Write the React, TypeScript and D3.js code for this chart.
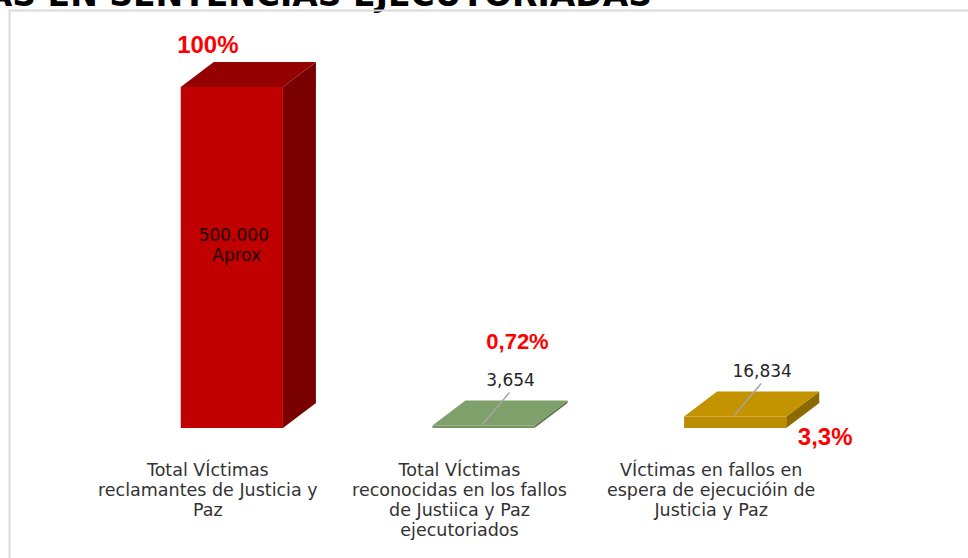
import React from "react";
import * as d3 from "d3";

const title = "VÍCTIMAS EN SENTENCIAS EJECUTORIADAS";
const categories = [
  "Total VÍctimas\nreclamantes de Justicia y\nPaz",
  "Total VÍctimas\nreconocidas en los fallos\nde Justiica y Paz\nejecutoriados",
  "VÍctimas en fallos en\nespera de ejecucióin de\nJusticia y Paz",
];
const values = [500000, 3654, 16834];
const valueLabels = ["500.000\nAprox", "3,654", "16,834"];
const percentLabels = ["100%", "0,72%", "3,3%"];

// face colours: front, top, side
const colors = [
  ["#C00000", "#940000", "#7A0000"],
  ["#76955F", "#7FA06B", "#5E7A4B"],
  ["#BB8C00", "#C39300", "#8C6A00"],
];
// where each red percentage note sits, relative to bar centre / bar top
const pctOffset = [
  { dx: -24, dy: -34, size: 24 },
  { dx: 34, dy: -77, size: 22 },
  { dx: 90, dy: 17, size: 24 },
];

const W = 968;
const H = 558;
const depthX = 33;
const depthY = 25;
const baseY = 428;
const topY = 87;

export default function App() {
  const x = d3
    .scaleBand()
    .domain(categories)
    .range([106, 861])
    .paddingInner(0.594)
    .paddingOuter(0.297);
  const y = d3.scaleLinear().domain([0, 500000]).range([baseY, topY]);
  const bw = x.bandwidth();

  return (
    <svg
      width={W}
      height={H}
      style={{ position: "absolute", left: 0, top: 0, background: "#fff" }}
    >
      <text
        x={652}
        y={6}
        textAnchor="end"
        fontFamily="DejaVu Sans"
        fontWeight="bold"
        fontSize={33}
        fill="#000"
      >
        {title}
      </text>
      <rect x={9.5} y={10.5} width={1200} height={1000} fill="none" stroke="#D9D9D9" strokeWidth={2} />

      {categories.map((c, i) => {
        const x0 = x(c)!;
        const x1 = x0 + bw;
        const yt = y(values[i]);
        const cx = x0 + bw / 2;
        const [front, top, side] = colors[i];
        const topFace = `M${x0},${yt} L${x0 + depthX},${yt - depthY} L${x1 + depthX},${yt - depthY} L${x1},${yt} Z`;
        const sideFace = `M${x1},${yt} L${x1 + depthX},${yt - depthY} L${x1 + depthX},${baseY - depthY} L${x1},${baseY} Z`;
        const lines = categories[i].split("\n");
        const vl = valueLabels[i].split("\n");
        const p = pctOffset[i];
        const big = baseY - yt > 60;
        return (
          <g key={c}>
            <path d={sideFace} fill={side} />
            <rect x={x0} y={yt} width={bw} height={baseY - yt} fill={front} />
            <path d={topFace} fill={top} />
            {big ? (
              <text
                textAnchor="middle"
                fontFamily="DejaVu Sans"
                fontSize={17}
                fill="#1a0000"
              >
                {vl.map((s, k) => (
                  <tspan key={k} x={cx + 2 + k * 3} y={(yt + baseY) / 2 - 17 + k * 20}>
                    {s}
                  </tspan>
                ))}
              </text>
            ) : (
              <g>
                <line
                  x1={cx - 1}
                  y1={yt - 1}
                  x2={cx + 26}
                  y2={yt - 33}
                  stroke="#A6A6A6"
                  strokeWidth={1.5}
                />
                <text
                  x={cx + 27}
                  y={yt - 40}
                  textAnchor="middle"
                  fontFamily="DejaVu Sans"
                  fontSize={17}
                  fill="#262626"
                >
                  {vl[0]}
                </text>
              </g>
            )}
            <text
              x={cx + p.dx}
              y={(i === 2 ? baseY : yt) + p.dy}
              textAnchor="middle"
              fontFamily="Liberation Sans, Arial"
              fontWeight="bold"
              fontSize={p.size}
              fill="#FF0000"
            >
              {percentLabels[i]}
            </text>
            <text
              textAnchor="middle"
              fontFamily="DejaVu Sans"
              fontSize={17.5}
              fill="#333"
            >
              {lines.map((s, k) => (
                <tspan key={k} x={cx - 24} y={476 + k * 20}>
                  {s}
                </tspan>
              ))}
            </text>
          </g>
        );
      })}
    </svg>
  );
}
